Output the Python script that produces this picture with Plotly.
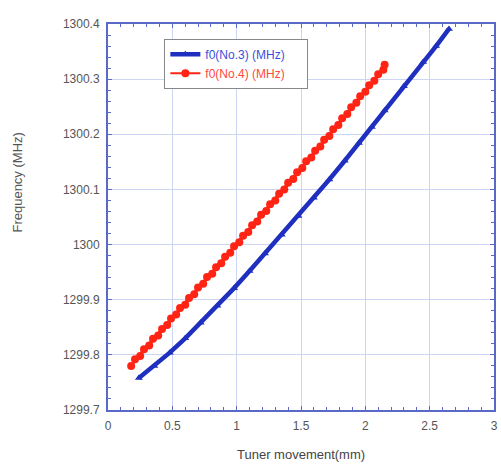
import plotly.graph_objects as go

# Cavity No.3 tuner sweep (mm -> MHz)
x_no3 = [0.24, 0.36, 0.48, 0.60, 0.72, 0.85, 0.98, 1.10, 1.22, 1.35, 1.48,
         1.60, 1.72, 1.84, 1.95, 2.05, 2.15, 2.30, 2.45, 2.55, 2.65]
f_no3 = [1299.758, 1299.780, 1299.804, 1299.830, 1299.858, 1299.889, 1299.921,
         1299.952, 1299.984, 1300.018, 1300.052, 1300.085, 1300.118, 1300.152,
         1300.184, 1300.213, 1300.243, 1300.287, 1300.331, 1300.360, 1300.391]

# Cavity No.4 tuner sweep, two passes
x_no4_a = [0.18, 0.25, 0.32, 0.39, 0.46, 0.53, 0.60, 0.67, 0.74, 0.81, 0.88,
           0.95, 1.02, 1.09, 1.16, 1.23, 1.30, 1.37, 1.44, 1.51, 1.58, 1.65,
           1.72, 1.79, 1.86, 1.93, 2.00, 2.07, 2.14]
f_no4_a = [1299.780, 1299.798, 1299.817, 1299.835, 1299.854, 1299.873, 1299.891,
           1299.910, 1299.929, 1299.947, 1299.966, 1299.985, 1300.004, 1300.023,
           1300.042, 1300.061, 1300.080, 1300.100, 1300.119, 1300.139, 1300.158,
           1300.178, 1300.197, 1300.217, 1300.237, 1300.257, 1300.277, 1300.297,
           1300.317]
x_no4_b = [0.21, 0.28, 0.35, 0.42, 0.49, 0.56, 0.63, 0.70, 0.77, 0.84, 0.91,
           0.98, 1.05, 1.12, 1.19, 1.26, 1.33, 1.40, 1.47, 1.54, 1.61, 1.68,
           1.75, 1.82, 1.89, 1.96, 2.03, 2.10, 2.15]
f_no4_b = [1299.792, 1299.810, 1299.829, 1299.847, 1299.866, 1299.885, 1299.903,
           1299.922, 1299.941, 1299.959, 1299.978, 1299.997, 1300.016, 1300.035,
           1300.054, 1300.073, 1300.092, 1300.112, 1300.131, 1300.151, 1300.170,
           1300.190, 1300.209, 1300.229, 1300.249, 1300.269, 1300.289, 1300.309,
           1300.326]

BLUE = "#1f2fbf"
RED = "#ff2414"
AXIS = "#5a68c8"
GRID = "#cdd5f2"
TXT = "#555555"
FONT = "Liberation Sans, Arial, sans-serif"

fig = go.Figure()
fig.add_trace(go.Scatter(x=x_no3, y=f_no3, mode="lines+markers",
                         name="<span style='color:#3b4fd8'>f0(No.3) (MHz)</span>\u00a0\u00a0\u00a0\u00a0\u00a0",
                         line=dict(color=BLUE, width=4.5),
                         marker=dict(symbol="triangle-up", size=7, color=BLUE)))
fig.add_trace(go.Scatter(x=x_no4_a, y=f_no4_a, mode="lines+markers",
                         name="<span style='color:#ff4a3a'>f0(No.4) (MHz)</span>",
                         line=dict(color=RED, width=2),
                         marker=dict(symbol="circle", size=8, color=RED)))
fig.add_trace(go.Scatter(x=x_no4_b, y=f_no4_b, mode="lines+markers", showlegend=False,
                         line=dict(color=RED, width=2),
                         marker=dict(symbol="circle", size=8, color=RED)))

axis_common = dict(
    showline=True, linecolor=AXIS, linewidth=2, mirror="allticks",
    showgrid=True, gridcolor=GRID, gridwidth=1, zeroline=False,
    ticks="inside", ticklen=4, tickcolor=AXIS, tickwidth=1,
    tickfont=dict(family=FONT, size=12, color=TXT),
)

fig.update_xaxes(range=[0, 3], dtick=0.5, tick0=0, ticklabelstandoff=4, tickformat="~g",
                 minor=dict(dtick=0.1, ticks="inside", ticklen=3, tickcolor=AXIS, showgrid=False),
                 **axis_common)
fig.update_yaxes(range=[1299.7, 1300.4], dtick=0.1, tick0=1299.7, ticklabelstandoff=4,
                 tickformat="~g",
                 minor=dict(dtick=0.02, ticks="inside", ticklen=3, tickcolor=AXIS, showgrid=False),
                 **axis_common)

fig.add_annotation(text="Tuner movement(mm)", xref="paper", yref="paper",
                   x=0.5, y=-0.115, xanchor="center", yanchor="middle", showarrow=False,
                   font=dict(family=FONT, size=13, color="#444444"))
fig.add_annotation(text="Frequency (MHz)", xref="paper", yref="paper",
                   x=-0.235, y=0.59, xanchor="center", yanchor="middle", showarrow=False,
                   textangle=-90, font=dict(family=FONT, size=13, color=TXT))

fig.update_layout(
    width=501, height=468,
    margin=dict(l=108, r=3, t=24, b=58),
    paper_bgcolor="white", plot_bgcolor="white",
    showlegend=True,
    legend=dict(x=0.146, y=0.962, xanchor="left", yanchor="top",
                bgcolor="white", bordercolor="#888888", borderwidth=1,
                font=dict(family=FONT, size=12), tracegroupgap=0,
                itemwidth=30),
)

fig.write_html("out.html")
